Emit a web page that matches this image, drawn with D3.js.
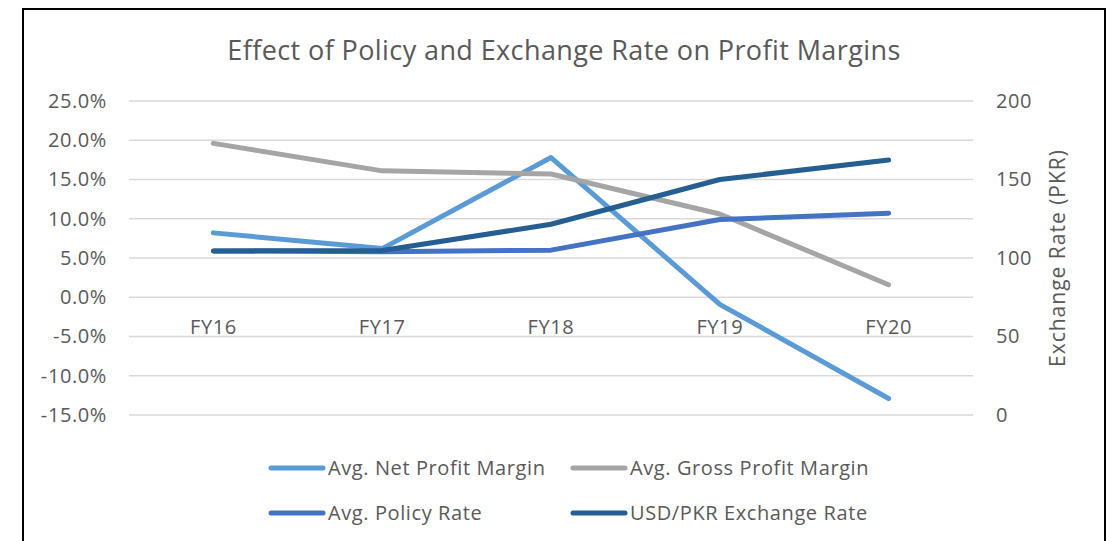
<!DOCTYPE html>
<html>
<head>
<meta charset="utf-8">
<script src="https://cdnjs.cloudflare.com/ajax/libs/d3/7.8.5/d3.min.js"></script>
<style>
	body { margin: 0; background: #fff; }
	text { font-family: "Open Sans", sans-serif; fill: #595959; }
</style>
</head>
<body>
<div id="chart"></div>
<script>
var years = ["FY16", "FY17", "FY18", "FY19", "FY20"]
var netMargin = [0.082, 0.062, 0.178, -0.009, -0.129]
var grossMargin = [0.196, 0.161, 0.157, 0.106, 0.016]
var policyRate = [0.059, 0.058, 0.060, 0.099, 0.107]
var exchangeRate = [104.5, 104.8, 121.5, 150, 162.4]
var leftTicks = [-0.15, -0.10, -0.05, 0, 0.05, 0.10, 0.15, 0.20, 0.25]
var rightTicks = [0, 50, 100, 150, 200]

var seriesNames = ["Avg. Net Profit Margin", "Avg. Gross Profit Margin", "Avg. Policy Rate", "USD/PKR Exchange Rate"]
var colors = ["#5B9BD5", "#A5A5A5", "#4472C4", "#255E91"]

;(() => run())()

function run() {
	var w = 1117
	var h = 541
	var box = { left: 129, right: 973, top: 101, bottom: 415 }
	var labelSize = "20px"
	var labelSpacing = "0.6px"

	var svg = d3.select("#chart")
		.append("svg")
		.attr("width", w)
		.attr("height", h)

	// outer frame (bottom edge falls outside the picture)
	svg.append("rect")
		.attr("x", 23)
		.attr("y", 9)
		.attr("width", 1082)
		.attr("height", 560)
		.attr("fill", "none")
		.attr("stroke", "#000")
		.attr("stroke-width", 2)

	svg.append("text")
		.attr("x", 564)
		.attr("y", 60)
		.attr("text-anchor", "middle")
		.style("font-size", "27px")
		.style("letter-spacing", "0.4px")
		.text("Effect of Policy and Exchange Rate on Profit Margins")

	var x = d3.scalePoint()
		.domain(years)
		.range([box.left, box.right])
		.padding(0.5)

	var y = d3.scaleLinear()
		.domain([-0.15, 0.25])
		.range([box.bottom, box.top])

	var y2 = d3.scaleLinear()
		.domain([0, 200])
		.range([box.bottom, box.top])

	// gridlines
	svg.append("g")
		.selectAll("line")
		.data(leftTicks)
		.enter()
		.append("line")
		.attr("x1", box.left)
		.attr("x2", box.right)
		.attr("y1", d => y(d))
		.attr("y2", d => y(d))
		.attr("stroke", "#D9D9D9")
		.attr("stroke-width", 1.5)

	var pct = d3.format(".1%")
	var yAxis = d3.axisLeft(y)
		.tickValues(leftTicks)
		.tickFormat(d => pct(d).replace("\u2212", "-"))
		.tickSize(0)
		.tickPadding(22)

	var gy = svg.append("g")
		.attr("transform", "translate(" + box.left + ",0)")
		.call(yAxis)
	gy.select(".domain").remove()
	gy.selectAll("text")
		.style("font-size", labelSize)
		.style("letter-spacing", labelSpacing)
		.attr("fill", "#595959")

	var yAxis2 = d3.axisRight(y2)
		.tickValues(rightTicks)
		.tickSize(0)
		.tickPadding(23)

	var gy2 = svg.append("g")
		.attr("transform", "translate(" + box.right + ",0)")
		.call(yAxis2)
	gy2.select(".domain").remove()
	gy2.selectAll("text")
		.style("font-size", labelSize)
		.style("letter-spacing", labelSpacing)
		.attr("fill", "#595959")

	// category labels sit just under the 0% line
	svg.append("g")
		.selectAll("text")
		.data(years)
		.enter()
		.append("text")
		.attr("x", d => x(d))
		.attr("y", y(0) + 37)
		.attr("text-anchor", "middle")
		.style("font-size", labelSize)
		.style("letter-spacing", labelSpacing)
		.text(d => d)

	svg.append("text")
		.attr("transform", "translate(1065," + ((box.top + box.bottom) / 2) + ") rotate(-90)")
		.attr("text-anchor", "middle")
		.style("font-size", "21px")
		.style("letter-spacing", "1px")
		.text("Exchange Rate (PKR)")

	var lineLeft = d3.line()
		.x((d, i) => x(years[i]))
		.y(d => y(d))

	var lineRight = d3.line()
		.x((d, i) => x(years[i]))
		.y(d => y2(d))

	var paths = [lineLeft(netMargin), lineLeft(grossMargin), lineLeft(policyRate), lineRight(exchangeRate)]

	svg.append("g")
		.selectAll("path")
		.data(paths)
		.enter()
		.append("path")
		.attr("d", d => d)
		.attr("fill", "none")
		.attr("stroke", (d, i) => colors[i])
		.attr("stroke-width", 5)
		.attr("stroke-linecap", "round")
		.attr("stroke-linejoin", "round")

	// legend, two columns by two rows
	var legendX = [269, 571]
	var legendY = [468, 513]

	var items = svg.append("g")
		.selectAll("g")
		.data(seriesNames)
		.enter()
		.append("g")
		.attr("transform", (d, i) => "translate(" + legendX[i % 2] + "," + legendY[Math.floor(i / 2)] + ")")

	items.append("line")
		.attr("x1", 2)
		.attr("x2", 54)
		.attr("stroke", (d, i) => colors[i])
		.attr("stroke-width", 5)
		.attr("stroke-linecap", "round")

	items.append("text")
		.attr("x", 59)
		.attr("dy", "0.35em")
		.style("font-size", labelSize)
		.style("letter-spacing", labelSpacing)
		.text(d => d)
}
</script>
</body>
</html>
